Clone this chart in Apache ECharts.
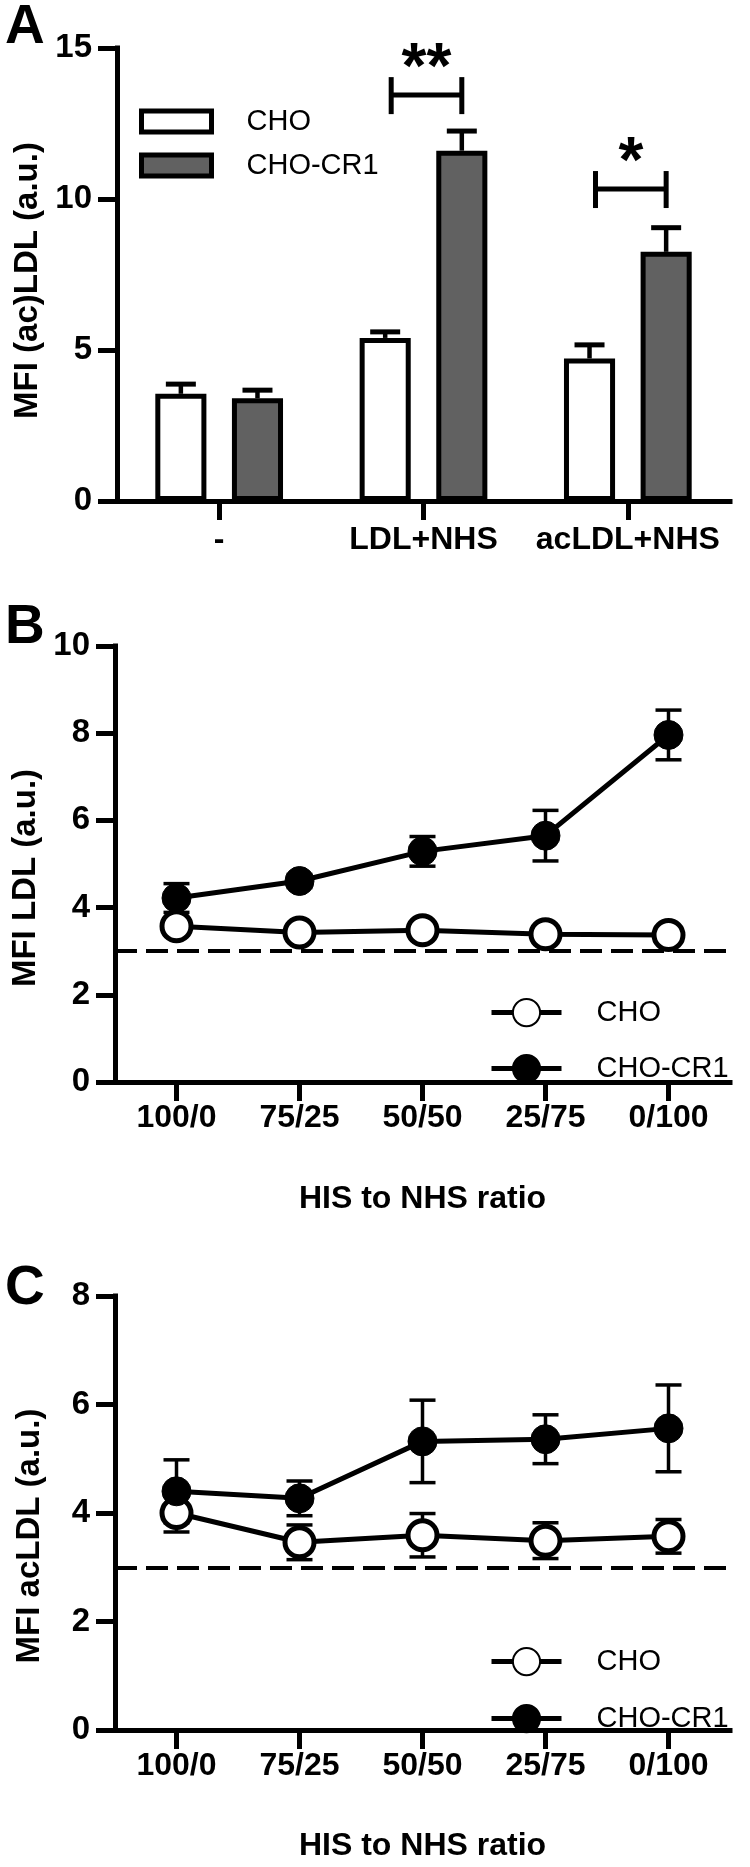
<!DOCTYPE html>
<html><head><meta charset="utf-8">
<script src="https://cdn.jsdelivr.net/npm/echarts@6/dist/echarts.min.js"></script>
<style>
html,body{margin:0;padding:0;background:#fff;width:750px;height:1867px;overflow:hidden}
.p{position:absolute;left:0;width:750px}
</style></head>
<body>
<div id="a" class="p" style="top:0;height:560px"></div>
<div id="b" class="p" style="top:560px;height:660px"></div>
<div id="c" class="p" style="top:1220px;height:647px"></div>
<script>
// ---------- Panel A data ----------
const categoriesA = ['-', 'LDL+NHS', 'acLDL+NHS'];
const choA = [3.55, 5.4, 4.72];
const choErrA = [0.32, 0.2, 0.45];
const cr1A = [3.4, 11.6, 8.25];
const cr1ErrA = [0.27, 0.65, 0.8];
const sigCatsA = [1, 2];
const sigLevelsA = [13.44, 10.33];
const sigLabelsA = ['**', '*'];
const yTicksA = {min: 0, max: 15, interval: 5};

// ---------- Panels B / C data ----------
const ratios = ['100/0', '75/25', '50/50', '25/75', '0/100'];
const choB = [3.57, 3.43, 3.48, 3.39, 3.37];
const choErrB = [0.2, 0.12, 0.12, 0.1, 0.1];
const cr1B = [4.22, 4.61, 5.29, 5.65, 7.96];
const cr1ErrB = [0.33, 0.15, 0.34, 0.58, 0.57];
const baselineB = 3;
const yTicksB = {min: 0, max: 10, interval: 2};

const choC = [4.0, 3.46, 3.59, 3.49, 3.57];
const choErrC = [0.35, 0.32, 0.4, 0.33, 0.31];
const cr1C = [4.40, 4.27, 5.32, 5.36, 5.56];
const cr1ErrC = [0.58, 0.32, 0.76, 0.45, 0.8];
const baselineC = 3;
const yTicksC = {min: 0, max: 8, interval: 2};

const FF = '"Liberation Sans", Arial, Helvetica, sans-serif';
const BLK = '#000';
const GRAY = '#616161';

function yAxisCfg(t, name, gap, shift) {
  return {
    type: 'value', min: t.min, max: t.max, interval: t.interval,
    name: name, nameLocation: 'middle', nameGap: gap,
    nameTextStyle: {fontFamily: FF, fontSize: 33, fontWeight: 'bold', color: BLK,
                    padding: [0, shift, 0, 0]},
    axisLine: {show: true, lineStyle: {color: BLK, width: 5, cap: 'square'}},
    axisTick: {show: true, length: 19, lineStyle: {color: BLK, width: 5}},
    axisLabel: {fontFamily: FF, fontSize: 33, fontWeight: 'bold', color: BLK, margin: 25},
    splitLine: {show: false}
  };
}
function xAxisCfg(cats, name, margin, nameGap) {
  return {
    type: 'category', data: cats, boundaryGap: true,
    name: name || '', nameLocation: 'middle', nameGap: nameGap || 0,
    nameTextStyle: {fontFamily: FF, fontSize: 32, fontWeight: 'bold', color: BLK},
    axisLine: {show: true, lineStyle: {color: BLK, width: 5, cap: 'square'}},
    axisTick: {show: true, alignWithLabel: true, length: 19, lineStyle: {color: BLK, width: 5}},
    axisLabel: {fontFamily: FF, fontSize: 32, fontWeight: 'bold', color: BLK, margin: margin, interval: 0},
    splitLine: {show: false}
  };
}
function letter(t, top) {
  return {text: t, left: 5, top: top, padding: 0,
    textStyle: {fontFamily: FF, fontSize: 55, fontWeight: 'bold', color: BLK}};
}

// ---------- Panel A ----------
const OFF = 0.1875; // bar centre offset as fraction of band (barWidth 25%, barGap 50%)
function barErr(params, api) {
  const band = api.size([1, 0])[0];
  const i = api.value(0), v = api.value(1), e = api.value(2), side = api.value(3);
  const p0 = api.coord([i, v]);
  const p1 = api.coord([i, v + e]);
  const x = p0[0] + side * OFF * band;
  const half = 15;
  return {type: 'group', children: [
    {type: 'line', shape: {x1: x, y1: p0[1], x2: x, y2: p1[1]}, style: {stroke: BLK, lineWidth: 4.5}},
    {type: 'line', shape: {x1: x - half, y1: p1[1], x2: x + half, y2: p1[1]}, style: {stroke: BLK, lineWidth: 5}}
  ]};
}
function bracket(params, api) {
  const band = api.size([1, 0])[0];
  const i = api.value(0), lvl = api.value(1);
  const p = api.coord([i, lvl]);
  const xl = p[0] - OFF * band + 6, xr = p[0] + OFF * band;
  const y = p[1];
  return {type: 'group', children: [
    {type: 'line', shape: {x1: xl, y1: y, x2: xr, y2: y}, style: {stroke: BLK, lineWidth: 5}},
    {type: 'line', shape: {x1: xl, y1: y - 18, x2: xl, y2: y + 19}, style: {stroke: BLK, lineWidth: 5}},
    {type: 'line', shape: {x1: xr, y1: y - 18, x2: xr, y2: y + 19}, style: {stroke: BLK, lineWidth: 5}},
    {type: 'text', style: {text: sigLabelsA[params.dataIndex], x: (xl + xr) / 2, y: y - 25,
      align: 'center', verticalAlign: 'middle', fontFamily: FF, fontSize: 64, fontWeight: 'bold', fill: BLK}}
  ]};
}

const chartA = echarts.init(document.getElementById('a'), null, {renderer: 'canvas'});
chartA.setOption({
  animation: false,
  backgroundColor: '#fff',
  title: letter('A', 0),
  grid: {left: 117, top: 48, width: 613, height: 453},
  legend: {
    orient: 'vertical', left: 134, top: 102, itemWidth: 70, itemHeight: 21, itemGap: 15,
    icon: 'rect', selectedMode: false,
    itemStyle: {borderColor: BLK, borderWidth: 5},
    textStyle: {fontFamily: FF, fontSize: 29, color: BLK, padding: [0, 0, 0, 30]},
    data: ['CHO', 'CHO-CR1']
  },
  xAxis: xAxisCfg(categoriesA, '', 23, 0),
  yAxis: yAxisCfg(yTicksA, 'MFI (ac)LDL (a.u.)', 70, 12),
  series: [
    {name: 'CHO', type: 'bar', data: choA, barWidth: '25%', barGap: '50%',
     itemStyle: {color: '#fff', borderColor: BLK, borderWidth: 5}, z: 2},
    {name: 'CHO-CR1', type: 'bar', data: cr1A, barWidth: '25%', barGap: '50%',
     itemStyle: {color: GRAY, borderColor: BLK, borderWidth: 5}, z: 2},
    {type: 'custom', renderItem: barErr, z: 1, silent: true,
     data: categoriesA.map((c, i) => [i, choA[i], choErrA[i], -1]).concat(
           categoriesA.map((c, i) => [i, cr1A[i], cr1ErrA[i], 1]))},
    {type: 'custom', renderItem: bracket, z: 3, silent: true,
     data: sigCatsA.map((c, k) => [c, sigLevelsA[k]])}
  ]
});

// ---------- Panels B and C ----------
function ptErr(params, api) {
  const i = api.value(0), v = api.value(1), e = api.value(2);
  const pt = api.coord([i, v + e]);
  const pb = api.coord([i, v - e]);
  const half = 13;
  const st = {stroke: BLK, lineWidth: 3.5};
  return {type: 'group', children: [
    {type: 'line', shape: {x1: pt[0], y1: pt[1], x2: pb[0], y2: pb[1]}, style: st},
    {type: 'line', shape: {x1: pt[0] - half, y1: pt[1], x2: pt[0] + half, y2: pt[1]}, style: st},
    {type: 'line', shape: {x1: pb[0] - half, y1: pb[1], x2: pb[0] + half, y2: pb[1]}, style: st}
  ]};
}
function legendRow(name, top) {
  return {
    orient: 'vertical', left: 489, top: top, itemWidth: 70, itemHeight: 34, padding: 0,
    selectedMode: false,
    lineStyle: {width: 5, color: BLK},
    textStyle: {fontFamily: FF, fontSize: 29, color: BLK, padding: [0, 0, 0, 30]},
    data: [name]
  };
}
function linePanel(el, letterTop, gridTop, yT, yName, shift, cho, choErr, cr1, cr1Err, base, legTops, xGap) {
  const ch = echarts.init(document.getElementById(el), null, {renderer: 'canvas'});
  ch.setOption({
    animation: false,
    backgroundColor: '#fff',
    title: letter(el.toUpperCase(), letterTop),
    grid: {left: 115, top: gridTop, width: 615, height: 454},
    legend: [legendRow('CHO', legTops[0]), legendRow('CHO-CR1', legTops[1])],
    xAxis: xAxisCfg(ratios, 'HIS to NHS ratio', 20, xGap),
    yAxis: yAxisCfg(yT, yName, 69, shift),
    series: [
      {type: 'custom', renderItem: ptErr, z: 1, silent: true,
       data: ratios.map((r, i) => [i, cho[i], choErr[i]]).concat(
             ratios.map((r, i) => [i, cr1[i], cr1Err[i]]))},
      {name: 'CHO', type: 'line', data: cho, symbol: 'circle', symbolSize: 29, z: 3,
       lineStyle: {color: BLK, width: 5},
       itemStyle: {color: '#fff', borderColor: BLK, borderWidth: 5},
       markLine: {silent: true, symbol: 'none', label: {show: false},
         lineStyle: {color: BLK, type: [22, 9], width: 4},
         data: [{yAxis: base}]}},
      {name: 'CHO-CR1', type: 'line', data: cr1, symbol: 'circle', symbolSize: 29, z: 3,
       lineStyle: {color: BLK, width: 5},
       itemStyle: {color: BLK, borderColor: BLK, borderWidth: 1}}
    ]
  });
  return ch;
}
linePanel('b', 40, 86, yTicksB, 'MFI LDL (a.u.)', 28, choB, choErrB, cr1B, cr1ErrB, baselineB, [438, 494], 101);
linePanel('c', 41, 76, yTicksC, 'MFI acLDL (a.u.)', 46, choC, choErrC, cr1C, cr1ErrC, baselineC, [427, 484], 100);
</script>
</body></html>
